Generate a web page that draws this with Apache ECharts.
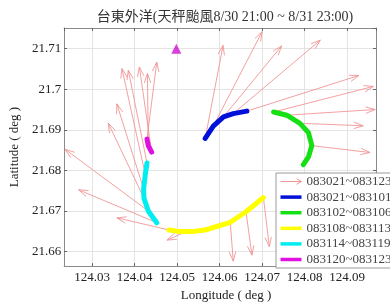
<!DOCTYPE html>
<html>
<head>
<meta charset="utf-8">
<script src="https://cdn.jsdelivr.net/npm/echarts@6/dist/echarts.min.js"></script>
<style>html,body{margin:0;padding:0;background:#fff}#c{width:390px;height:307px}</style>
</head>
<body>
<div id="c"></div>
<script>
// ---- data (lon, lat) ----
const titleText = '台東外洋(天秤颱風8/30 21:00 ~ 8/31 23:00)';
const lonRange = [124.0234, 124.0968];
const latRange = [21.6564, 21.7151];
const legendNames = ['083021~083123','083021~083101','083102~083106','083108~083113','083114~083119','083120~083123'];

const blueTrack = [[124.0566,21.6879],[124.0585,21.6909],[124.0609,21.6932],[124.0632,21.6940],[124.0664,21.6946]];
const greenTrack = [[124.0727,21.6944],[124.0758,21.6936],[124.0789,21.6916],[124.0809,21.6893],[124.0817,21.6861],[124.0809,21.6833],[124.0797,21.6814]];
const yellowTrack = [[124.0481,21.6653],[124.0507,21.6649],[124.0535,21.6649],[124.0566,21.6653],[124.0625,21.6672],[124.0662,21.6698],[124.0703,21.6733]];
const cyanTrack = [[124.0429,21.6818],[124.0425,21.6790],[124.0421,21.6754],[124.0422,21.6731],[124.0432,21.6700],[124.0452,21.6671]];
const magentaTrack = [[124.0429,21.6877],[124.0432,21.6861],[124.0440,21.6845]];
const station = [[124.0498,21.7100]];

// arrows: [startLon, startLat, endLon, endLat]
const arrows = [
  [124.0566,21.6879,124.0608,21.7108],
  [124.0585,21.6909,124.0700,21.7142],
  [124.0609,21.6932,124.0746,21.7107],
  [124.0632,21.6940,124.0837,21.7121],
  [124.0664,21.6946,124.0928,21.7034],
  [124.0727,21.6944,124.0962,21.7007],
  [124.0758,21.6936,124.0966,21.6950],
  [124.0789,21.6916,124.0938,21.6910],
  [124.0817,21.6861,124.0954,21.6844],
  [124.0703,21.6733,124.0717,21.6612],
  [124.0662,21.6698,124.0676,21.6591],
  [124.0625,21.6672,124.0632,21.6576],
  [124.0521,21.6649,124.0476,21.6628],
  [124.0481,21.6653,124.0358,21.6683],
  [124.0452,21.6671,124.0268,21.6752],
  [124.0432,21.6700,124.0236,21.6852],
  [124.0422,21.6731,124.0338,21.6916],
  [124.0421,21.6754,124.0358,21.6964],
  [124.0425,21.6790,124.0370,21.7051],
  [124.0429,21.6818,124.0385,21.7047],
  [124.0440,21.6845,124.0411,21.7055],
  [124.0432,21.6861,124.0430,21.7039],
  [124.0429,21.6877,124.0452,21.7067]
];

const FONT = "'Liberation Serif','Times New Roman','Noto Sans CJK TC',serif";
const arrowColor = '#f29595';
const trackColors = ['#0010d8','#14e014','#ffff00','#00eef0','#e010e0'];

const chart = echarts.init(document.getElementById('c'), null, {renderer:'canvas'});

function axisCommon(){
  return {
    type:'value', scale:true,
    minInterval:0.01, maxInterval:0.01, splitNumber:7,
    axisLine:{show:true, onZero:false, lineStyle:{color:'#8a8a8a', width:1}},
    axisTick:{show:true, inside:true, length:3, lineStyle:{color:'#666'}},
    axisLabel:{show:true, color:'#222', fontFamily:FONT, fontSize:13, showMinLabel:false, showMaxLabel:false},
    splitLine:{show:true, lineStyle:{color:'#e4e4e4', width:1}}
  };
}
const xMain = Object.assign(axisCommon(), {min:lonRange[0], max:lonRange[1], position:'bottom',
  name:'Longitude ( deg )', nameLocation:'middle', nameGap:16,
  nameTextStyle:{fontFamily:FONT, fontSize:13, color:'#222', padding:[0,0,0,12]}});
xMain.axisLabel.margin = 5;
const xTop = Object.assign(axisCommon(), {min:lonRange[0], max:lonRange[1], position:'top'});
xTop.axisLabel = {show:false}; xTop.splitLine = {show:false};
const yMain = Object.assign(axisCommon(), {min:latRange[0], max:latRange[1], position:'left', splitNumber:6,
  name:'Latitude ( deg )', nameLocation:'middle', nameGap:36,
  nameTextStyle:{fontFamily:FONT, fontSize:13, color:'#222'}});
yMain.axisLabel.margin = 3;
const yRight = Object.assign(axisCommon(), {min:latRange[0], max:latRange[1], position:'right', splitNumber:6});
yRight.axisLabel = {show:false}; yRight.splitLine = {show:false};

function lineSeries(name, data, color){
  return {
    type:'line', name:name, data:data, xAxisIndex:0, yAxisIndex:0,
    symbol:'none', smooth:false, z:3,
    lineStyle:{color:color, width:5, cap:'round', join:'round'},
    itemStyle:{color:color}
  };
}
const barIcon = 'path://M0,0L30,0L30,5L0,5Z';

const option = {
  animation:false,
  backgroundColor:'#fff',
  title:{text:titleText, left:220, top:5, textAlign:'center',
    textStyle:{fontFamily:FONT, fontSize:14, fontWeight:'normal', color:'#333'}},
  grid:{left:64, top:28, right:14, bottom:32, containLabel:false},
  xAxis:[xMain, xTop],
  yAxis:[yMain, yRight],
  legend:{
    show:true, orient:'vertical', left:276, top:173,
    backgroundColor:'#fff', borderColor:'#9a9a9a', borderWidth:1,
    padding:[2,6,2,2], itemWidth:21, itemHeight:14, itemGap:2.6,
    textStyle:{fontFamily:FONT, fontSize:13, color:'#444'},
    data:[
      {name:legendNames[0], icon:'path://M0,5L30,5M23,1L30,5L23,9',
        itemStyle:{color:'none', borderColor:arrowColor, borderWidth:1}},
      {name:legendNames[1], icon:barIcon, itemStyle:{color:trackColors[0], borderWidth:0}},
      {name:legendNames[2], icon:barIcon, itemStyle:{color:trackColors[1], borderWidth:0}},
      {name:legendNames[3], icon:barIcon, itemStyle:{color:trackColors[2], borderWidth:0}},
      {name:legendNames[4], icon:barIcon, itemStyle:{color:trackColors[3], borderWidth:0}},
      {name:legendNames[5], icon:barIcon, itemStyle:{color:trackColors[4], borderWidth:0}}
    ]
  },
  series:[
    {
      type:'custom', name:legendNames[0], xAxisIndex:0, yAxisIndex:0, z:2,
      data:arrows, encode:{x:[0,2], y:[1,3]},
      itemStyle:{color:arrowColor},
      renderItem:function(params, api){
        const p0 = api.coord([api.value(0), api.value(1)]);
        const p1 = api.coord([api.value(2), api.value(3)]);
        const ang = Math.atan2(p1[1]-p0[1], p1[0]-p0[0]);
        const L = 10, a = 0.33;
        const h1 = [p1[0]-L*Math.cos(ang-a), p1[1]-L*Math.sin(ang-a)];
        const h2 = [p1[0]-L*Math.cos(ang+a), p1[1]-L*Math.sin(ang+a)];
        return {type:'group', children:[
          {type:'line', shape:{x1:p0[0], y1:p0[1], x2:p1[0], y2:p1[1]}, style:{stroke:arrowColor, lineWidth:0.9}},
          {type:'polyline', shape:{points:[h1, p1, h2]}, style:{stroke:arrowColor, fill:null, lineWidth:0.9}}
        ]};
      }
    },
    lineSeries(legendNames[1], blueTrack, trackColors[0]),
    lineSeries(legendNames[2], greenTrack, trackColors[1]),
    lineSeries(legendNames[3], yellowTrack, trackColors[2]),
    lineSeries(legendNames[4], cyanTrack, trackColors[3]),
    lineSeries(legendNames[5], magentaTrack, trackColors[4]),
    {type:'scatter', name:'station', data:station, symbol:'triangle', symbolSize:10, z:4,
      itemStyle:{color:'#d010d0'}}
  ]
};
chart.setOption(option);
</script>
</body>
</html>
